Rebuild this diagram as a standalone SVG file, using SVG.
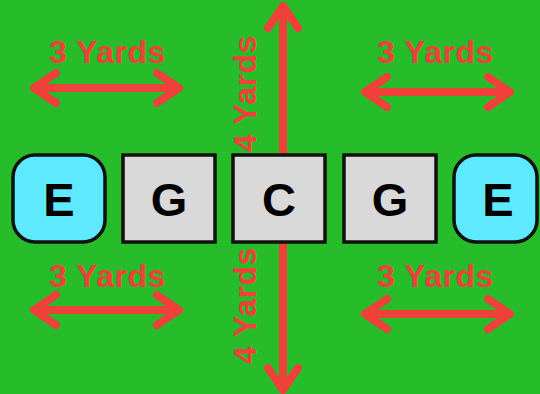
<svg xmlns="http://www.w3.org/2000/svg" width="540" height="394" viewBox="0 0 540 394">
<style>
.arr{fill:none;stroke:#f0403a;stroke-width:8;stroke-linecap:round;stroke-linejoin:round}
.lbl{font-family:"Liberation Sans",Arial,sans-serif;font-weight:bold;font-size:32px;letter-spacing:0.5px;fill:#f0403a}
.end{fill:#5ee9fe;stroke:#111;stroke-width:3.5}
.gua{fill:#d9d9d9;stroke:#111;stroke-width:3.5}
.nt{font-family:"Liberation Sans",Arial,sans-serif;font-weight:bold;font-size:47px;fill:#000;text-anchor:middle}
</style>
<rect width="540" height="394" fill="#27bd2a"/>
<g id="connectors">
<path class="arr" d="M283 6V390M268 28L283 6L298 28M268 368L283 390L298 368"/>
<path class="arr" d="M34 88H179M56 73L34 88L56 103M157 73L179 88L157 103"/>
<path class="arr" d="M365 92H510M387 77L365 92L387 107M488 77L510 92L488 107"/>
<path class="arr" d="M34 310H179M56 295L34 310L56 325M157 295L179 310L157 325"/>
<path class="arr" d="M365 314H510M387 299L365 314L387 329M488 299L510 314L488 329"/>
</g>
<g id="labels">
<text class="lbl" x="49" y="63">3 Yards</text>
<text class="lbl" x="377" y="63">3 Yards</text>
<text class="lbl" x="49" y="287">3 Yards</text>
<text class="lbl" x="377" y="287">3 Yards</text>
<text class="lbl" transform="translate(256,152) rotate(-90)">4 Yards</text>
<text class="lbl" transform="translate(256,364) rotate(-90)">4 Yards</text>
</g>
<g id="node-e1"><rect class="end" x="13" y="155" width="92" height="87" rx="22"/><text class="nt" x="59" y="216">E</text></g>
<g id="node-g1"><rect class="gua" x="123" y="155" width="92" height="87"/><text class="nt" x="169" y="216">G</text></g>
<g id="node-c"><rect class="gua" x="233" y="155" width="92" height="87"/><text class="nt" x="279" y="216">C</text></g>
<g id="node-g2"><rect class="gua" x="344" y="155" width="92" height="87"/><text class="nt" x="390" y="216">G</text></g>
<g id="node-e2"><rect class="end" x="454" y="155" width="83" height="87" rx="22"/><text class="nt" x="498" y="216">E</text></g>
</svg>
